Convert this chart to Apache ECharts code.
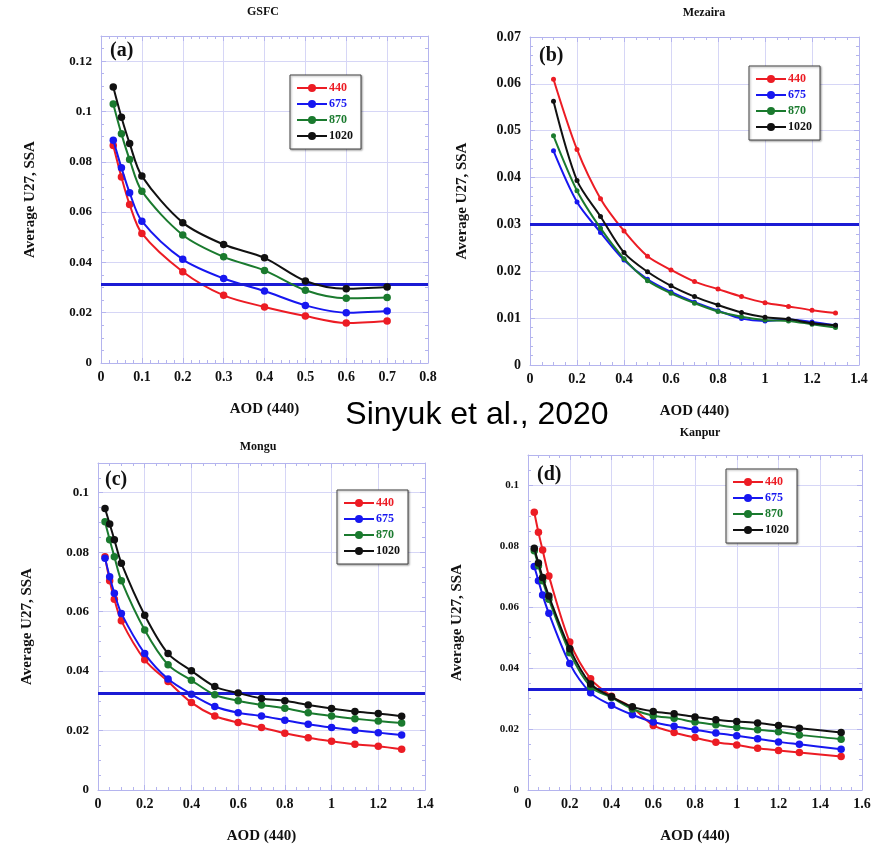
<!DOCTYPE html>
<html>
<head>
<meta charset="utf-8">
<script src="https://cdn.jsdelivr.net/npm/echarts@6/dist/echarts.min.js"></script>
<style>
  html, body { margin: 0; padding: 0; background: #fff; }
  #main { width: 886px; height: 846px; }
</style>
</head>
<body>
<div id="main"></div>
<script>
var waves = ['440', '675', '870', '1020'];
var colors = ['#ec1c24', '#1717f0', '#1a7a2e', '#111111'];

// (a) GSFC
var xA = [0.03, 0.05, 0.07, 0.1, 0.2, 0.3, 0.4, 0.5, 0.6, 0.7];
var a440 = [0.0865, 0.0739, 0.0630, 0.0515, 0.0363, 0.0269, 0.0223, 0.0187, 0.0159, 0.0167];
var a675 = [0.0886, 0.0776, 0.0677, 0.0564, 0.0412, 0.0336, 0.0286, 0.0229, 0.0200, 0.0207];
var a870 = [0.1030, 0.0911, 0.0809, 0.0683, 0.0509, 0.0422, 0.0368, 0.0289, 0.0257, 0.0260];
var a1020 = [0.1097, 0.0977, 0.0873, 0.0743, 0.0558, 0.0471, 0.0418, 0.0326, 0.0295, 0.0302];

// (b) Mezaira
var xB = [0.1, 0.2, 0.3, 0.4, 0.5, 0.6, 0.7, 0.8, 0.9, 1.0, 1.1, 1.2, 1.3];
var b440 = [0.0610, 0.0460, 0.0355, 0.0286, 0.0232, 0.0203, 0.0178, 0.0162, 0.0146, 0.0133, 0.0125, 0.0117, 0.0111];
var b675 = [0.0457, 0.0348, 0.0283, 0.0224, 0.0183, 0.0156, 0.0134, 0.0116, 0.0099, 0.0094, 0.0097, 0.0092, 0.0085];
var b870 = [0.0489, 0.0372, 0.0292, 0.0227, 0.0180, 0.0153, 0.0132, 0.0114, 0.0103, 0.0096, 0.0094, 0.0087, 0.0080];
var b1020 = [0.0563, 0.0394, 0.0317, 0.0240, 0.0199, 0.0169, 0.0146, 0.0128, 0.0112, 0.0102, 0.0098, 0.0089, 0.0085];

// (c) Mongu
var xC = [0.03, 0.05, 0.07, 0.1, 0.2, 0.3, 0.4, 0.5, 0.6, 0.7, 0.8, 0.9, 1.0, 1.1, 1.2, 1.3];
var c440 = [0.0785, 0.0704, 0.0642, 0.0569, 0.0438, 0.0365, 0.0294, 0.0249, 0.0227, 0.0210, 0.0191, 0.0176, 0.0164, 0.0154, 0.0147, 0.0137];
var c675 = [0.0780, 0.0717, 0.0662, 0.0594, 0.0459, 0.0373, 0.0322, 0.0281, 0.0260, 0.0249, 0.0235, 0.0221, 0.0210, 0.0201, 0.0193, 0.0185];
var c870 = [0.0902, 0.0842, 0.0785, 0.0704, 0.0538, 0.0421, 0.0369, 0.0320, 0.0300, 0.0286, 0.0275, 0.0260, 0.0249, 0.0240, 0.0232, 0.0225];
var c1020 = [0.0947, 0.0895, 0.0842, 0.0763, 0.0588, 0.0459, 0.0401, 0.0348, 0.0326, 0.0308, 0.0300, 0.0286, 0.0274, 0.0264, 0.0257, 0.0248];

// (d) Kanpur
var xD = [0.03, 0.05, 0.07, 0.1, 0.2, 0.3, 0.4, 0.5, 0.6, 0.7, 0.8, 0.9, 1.0, 1.1, 1.2, 1.3, 1.5];
var d440 = [0.0912, 0.0846, 0.0788, 0.0703, 0.0486, 0.0365, 0.0308, 0.0270, 0.0212, 0.0189, 0.0172, 0.0157, 0.0148, 0.0137, 0.0130, 0.0123, 0.0110];
var d675 = [0.0734, 0.0687, 0.0640, 0.0580, 0.0415, 0.0319, 0.0278, 0.0247, 0.0223, 0.0209, 0.0198, 0.0187, 0.0178, 0.0168, 0.0158, 0.0150, 0.0134];
var d870 = [0.0786, 0.0736, 0.0687, 0.0626, 0.0451, 0.0339, 0.0304, 0.0266, 0.0244, 0.0236, 0.0223, 0.0214, 0.0205, 0.0198, 0.0191, 0.0181, 0.0167];
var d1020 = [0.0794, 0.0745, 0.0698, 0.0637, 0.0464, 0.0348, 0.0306, 0.0273, 0.0258, 0.0250, 0.0240, 0.0231, 0.0225, 0.0220, 0.0212, 0.0203, 0.0189];

// blue reference line per panel
var thresholds = [0.0315, 0.030, 0.0327, 0.033];

var sites = ['GSFC', 'Mezaira', 'Mongu', 'Kanpur'];
var letters = ['(a)', '(b)', '(c)', '(d)'];

var panels = [
  { x: xA, ys: [a440, a675, a870, a1020], grid: [101, 36, 327, 327], xmax: 0.8, xint: 0.1, xminor: 5, ymax: 0.13, yint: 0.02, yminor: 4, sym: 7.5, yfont: 13, title: [263, 12], letter: [110, 51], legend: [290, 75], yname: 63 },
  { x: xB, ys: [b440, b675, b870, b1020], grid: [530, 37, 329, 328], xmax: 1.4, xint: 0.2, xminor: 4, ymax: 0.07, yint: 0.01, yminor: 5, sym: 5, yfont: 14, title: [704, 13], letter: [539, 56], legend: [749, 66], yname: 60 },
  { x: xC, ys: [c440, c675, c870, c1020], grid: [98, 463, 327, 327], xmax: 1.4, xint: 0.2, xminor: 4, ymax: 0.11, yint: 0.02, yminor: 4, sym: 7.5, yfont: 13, title: [258, 447], letter: [105, 480], legend: [337, 490], yname: 63 },
  { x: xD, ys: [d440, d675, d870, d1020], grid: [528, 455, 334, 335], xmax: 1.6, xint: 0.2, xminor: 4, ymax: 0.11, yint: 0.02, yminor: 4, sym: 7.5, yfont: 11, title: [700, 433], letter: [537, 475], legend: [726, 469], yname: 63 }
];

var serif = 'Liberation Serif';
var frameColor = '#b4b4ee';
var gridColor = '#d6d6f6';

function pairs(xs, ys) {
  var out = [];
  for (var i = 0; i < xs.length; i++) {
    out.push([xs[i], ys[i]]);
  }
  return out;
}

function makeAxis(dim, p, opposite) {
  var isX = dim === 'x';
  var ax = {
    type: 'value',
    gridIndex: p.idx,
    min: 0,
    max: isX ? p.xmax : p.ymax,
    interval: isX ? p.xint : p.yint,
    position: isX ? (opposite ? 'top' : 'bottom') : (opposite ? 'right' : 'left'),
    axisLine: { show: true, onZero: false, lineStyle: { color: frameColor, width: 1 } },
    axisTick: { show: true, inside: true, length: 5, lineStyle: { color: frameColor } },
    minorTick: { show: true, splitNumber: isX ? p.xminor : p.yminor, length: 3, lineStyle: { color: frameColor } },
    splitLine: { show: !opposite, lineStyle: { color: gridColor, width: 1 } },
    axisLabel: {
      show: !opposite,
      // top of (a), (c), (d) is not a labelled tick
      showMaxLabel: isX ? true : (p.idx === 1),
      fontFamily: serif,
      fontWeight: 'bold',
      fontSize: isX ? 14 : p.yfont,
      color: '#111',
      margin: isX ? 7 : 9
    }
  };
  if (!opposite) {
    ax.name = isX ? 'AOD (440)' : 'Average U27, SSA';
    ax.nameLocation = 'middle';
    ax.nameGap = isX ? 39 : p.yname;
    ax.nameTextStyle = { fontFamily: serif, fontWeight: 'bold', fontSize: 15, color: '#111' };
  }
  return ax;
}

var grids = [], xAxes = [], yAxes = [], series = [], legends = [], graphics = [];

for (var p = 0; p < panels.length; p++) {
  var pn = panels[p];
  pn.idx = p;
  grids.push({ left: pn.grid[0], top: pn.grid[1], width: pn.grid[2], height: pn.grid[3], containLabel: false });
  xAxes.push(makeAxis('x', pn, false));
  xAxes.push(makeAxis('x', pn, true));
  yAxes.push(makeAxis('y', pn, false));
  yAxes.push(makeAxis('y', pn, true));

  for (var s = 0; s < waves.length; s++) {
    var ser = {
      name: waves[s],
      type: 'line',
      xAxisIndex: 2 * p,
      yAxisIndex: 2 * p,
      data: pairs(pn.x, pn.ys[s]),
      smooth: 0.3,
      symbol: 'circle',
      symbolSize: pn.sym,
      color: colors[s],
      lineStyle: { width: 2, color: colors[s] },
      itemStyle: { color: colors[s] },
      z: 3 + s
    };
    if (s === 0) {
      ser.markLine = {
        silent: true,
        symbol: 'none',
        precision: 5,
        label: { show: false },
        lineStyle: { color: '#1b1bd4', width: 3, type: 'solid' },
        data: [{ yAxis: thresholds[p] }]
      };
    }
    series.push(ser);
  }

  var legendData = [];
  for (var k = 0; k < waves.length; k++) {
    legendData.push({ name: waves[k], textStyle: { color: colors[k] } });
  }
  legends.push({
    data: legendData,
    orient: 'vertical',
    left: pn.legend[0],
    top: pn.legend[1],
    itemWidth: 30,
    itemHeight: 10,
    itemGap: 4,
    padding: [7, 8, 7, 6],
    backgroundColor: '#fff',
    borderColor: '#444',
    borderWidth: 1,
    shadowColor: 'rgba(0,0,0,0.35)',
    shadowBlur: 2,
    shadowOffsetX: 1,
    shadowOffsetY: 1,
    selectedMode: false,
    textStyle: { fontFamily: serif, fontWeight: 'bold', fontSize: 12, lineHeight: 10, padding: [0, 0, 0, -3] }
  });

  graphics.push({
    type: 'text', x: pn.title[0], y: pn.title[1],
    style: { text: sites[p], fontFamily: serif, fontWeight: 'bold', fontSize: 12, fill: '#111', align: 'center', verticalAlign: 'middle' }
  });
  graphics.push({
    type: 'text', x: pn.letter[0], y: pn.letter[1], z: 10,
    style: { text: letters[p], fontFamily: serif, fontWeight: 'bold', fontSize: 20, fill: '#111', align: 'left', verticalAlign: 'middle' }
  });
}

graphics.push({
  type: 'text', x: 477, y: 415,
  style: { text: 'Sinyuk et al., 2020', fontFamily: 'Liberation Sans', fontSize: 32, fill: '#000', align: 'center', verticalAlign: 'middle' }
});

var option = {
  animation: false,
  backgroundColor: '#fff',
  grid: grids,
  xAxis: xAxes,
  yAxis: yAxes,
  legend: legends,
  series: series,
  graphic: graphics
};

var myChart = echarts.init(document.getElementById('main'));
myChart.setOption(option);
</script>
</body>
</html>
